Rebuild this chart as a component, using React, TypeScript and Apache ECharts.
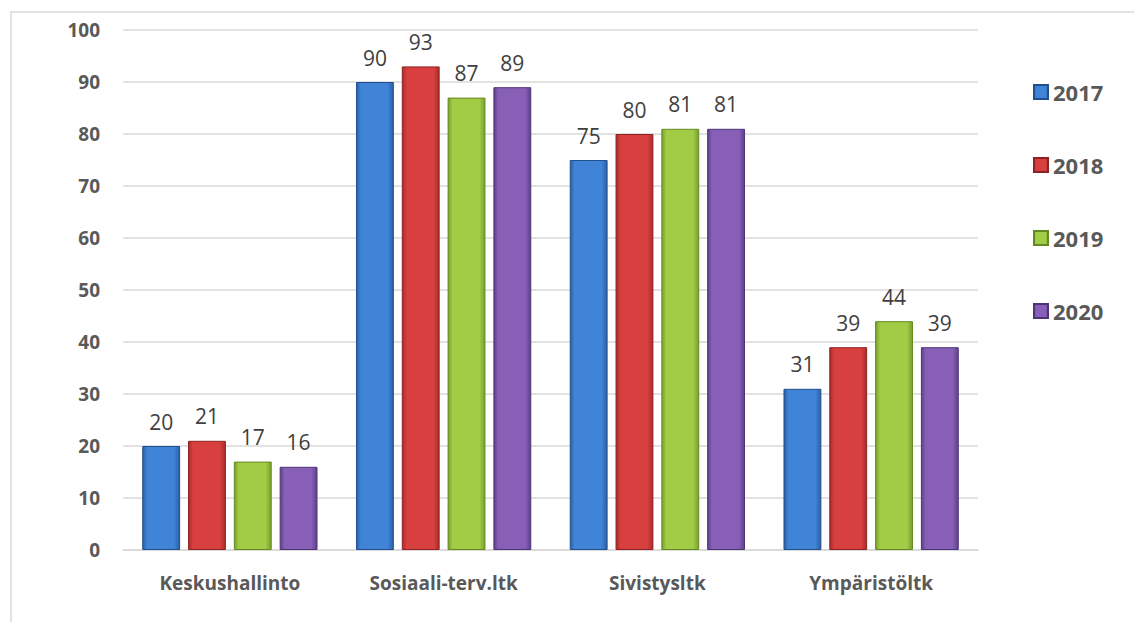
import React, { useEffect, useRef } from "react";
import * as echarts from "echarts";

const categories = ["Keskushallinto", "Sosiaali-terv.ltk", "Sivistysltk", "Ympäristöltk"];
const years = ["2017", "2018", "2019", "2020"];
const values2017 = [20, 90, 75, 31];
const values2018 = [21, 93, 80, 39];
const values2019 = [17, 87, 81, 44];
const values2020 = [16, 89, 81, 39];
const yTicks = [0, 10, 20, 30, 40, 50, 60, 70, 80, 90, 100];

const seriesValues = [values2017, values2018, values2019, values2020];
const palettes = [
  { edge: "#2b5fa6", mid: "#3f84d6", border: "#234f8c" },
  { edge: "#a92b2b", mid: "#d83f3f", border: "#8e2222" },
  { edge: "#77a02b", mid: "#a2cb46", border: "#638a20" },
  { edge: "#5e408c", mid: "#875fb7", border: "#4e3476" },
];

const grad = (p: { edge: string; mid: string }) =>
  new echarts.graphic.LinearGradient(0, 0, 1, 0, [
    { offset: 0, color: p.edge },
    { offset: 0.12, color: p.mid },
    { offset: 0.85, color: p.mid },
    { offset: 1, color: p.edge },
  ]);

export default function App() {
  const ref = useRef<HTMLDivElement>(null);
  useEffect(() => {
    if (!ref.current) return;
    const chart = echarts.init(ref.current, undefined, { renderer: "svg" });
    const font = "'Open Sans', 'Liberation Sans', sans-serif";
    chart.setOption({
      animation: false,
      backgroundColor: "#ffffff",
      graphic: [
        {
          type: "rect",
          shape: { x: 11, y: 12, width: 1300, height: 800 },
          style: { fill: "none", stroke: "#d9d9d9", lineWidth: 1.5 },
          silent: true,
          z: -1,
        },
      ],
      grid: { left: 123, top: 30, width: 855, height: 520, containLabel: false },
      legend: {
        orient: "vertical",
        left: 1028,
        top: 76,
        itemWidth: 14,
        itemHeight: 14,
        itemGap: 51,
        icon: "rect",
        data: years,
        textStyle: {
          fontFamily: font,
          fontSize: 22,
          fontWeight: "bold",
          color: "#595959",
        },
      },
      xAxis: {
        type: "category",
        data: categories,
        axisLine: { lineStyle: { color: "#d9d9d9", width: 1.5 } },
        axisTick: { show: false },
        axisLabel: {
          margin: 23,
          fontFamily: font,
          fontSize: 19,
          fontWeight: "bold",
          color: "#595959",
        },
      },
      yAxis: {
        type: "value",
        min: yTicks[0],
        max: yTicks[yTicks.length - 1],
        interval: 10,
        axisLine: { show: false },
        axisTick: { show: false },
        splitLine: { lineStyle: { color: "#d9d9d9", width: 1.5 } },
        axisLabel: {
          margin: 23,
          fontFamily: font,
          fontSize: 19,
          fontWeight: "bold",
          color: "#595959",
        },
      },
      series: years.map((y, i) => ({
        name: y,
        type: "bar",
        data: seriesValues[i],
        barGap: "21%",
        barCategoryGap: "18%",
        itemStyle: {
          color: grad(palettes[i]),
          borderColor: palettes[i].border,
          borderWidth: 1,
        },
        label: {
          show: true,
          position: "top",
          distance: 14,
          fontFamily: font,
          fontSize: 21,
          color: "#404040",
        },
      })),
    });
    return () => chart.dispose();
  }, []);
  return (
    <div
      ref={ref}
      style={{ position: "fixed", left: 0, top: 0, width: 1134, height: 622 }}
    />
  );
}
